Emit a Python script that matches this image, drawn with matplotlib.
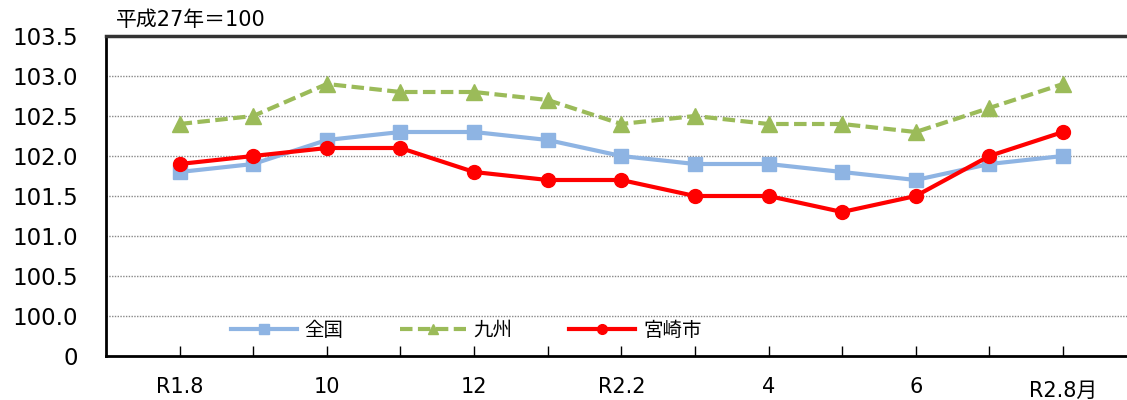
import matplotlib
matplotlib.use('Agg')
import matplotlib.pyplot as plt
from matplotlib.transforms import ScaledTranslation

plt.rcParams['font.family'] = ['DejaVu Sans', 'Noto Sans CJK JP']

# data
months = ['R1.8', '9', '10', '11', '12', 'R2.1', 'R2.2', '3', '4', '5', '6', '7', 'R2.8']
tick_labels = ['R1.8', '', '10', '', '12', '', 'R2.2', '', '4', '', '6', '', 'R2.8月']
zenkoku = [101.8, 101.9, 102.2, 102.3, 102.3, 102.2, 102.0, 101.9, 101.9, 101.8, 101.7, 101.9, 102.0]
kyushu = [102.4, 102.5, 102.9, 102.8, 102.8, 102.7, 102.4, 102.5, 102.4, 102.4, 102.3, 102.6, 102.9]
miyazaki = [101.9, 102.0, 102.1, 102.1, 101.8, 101.7, 101.7, 101.5, 101.5, 101.3, 101.5, 102.0, 102.3]
y_ticks = [99.5, 100.0, 100.5, 101.0, 101.5, 102.0, 102.5, 103.0, 103.5]
y_labels = ['0', '100.0', '100.5', '101.0', '101.5', '102.0', '102.5', '103.0', '103.5']

fig = plt.figure(figsize=(11.27, 4), dpi=100)
ax = fig.add_axes([106 / 1127, 44 / 400, (1127 - 106) / 1127, 320 / 400])

x = list(range(len(months)))
ax.plot(x, zenkoku, color='#8EB4E3', lw=3, marker='s', ms=10, label='全国', zorder=3)
ax.plot(x, kyushu, color='#9BBB59', lw=3, ls=(0, (3, 1.3)), marker='^', ms=11, label='九州', zorder=3)
ax.plot(x, miyazaki, color='#FF0000', lw=3, marker='o', ms=10, label='宮崎市', zorder=4)

ax.set_xlim(-1.0, 12.87)
ax.set_ylim(99.5, 103.5)
ax.set_yticks(y_ticks)
ax.set_yticklabels(y_labels, fontsize=16.5)
ax.tick_params(axis='y', length=0, pad=20)
ax.set_xticks(x)
ax.set_xticklabels(tick_labels, fontsize=15)
ax.tick_params(axis='x', direction='in', length=7, width=1, pad=15)
last = ax.get_xticklabels()[-1]
last.set_transform(last.get_transform() + ScaledTranslation(0, -3 / 72, fig.dpi_scale_trans))

for v in y_ticks[1:-1]:
    ax.axhline(v, color='#888888', lw=1, ls=(0, (1, 1)), zorder=1)

ax.spines['right'].set_visible(False)
ax.spines['top'].set_linewidth(2.5)
ax.spines['top'].set_color('#333333')
ax.spines['left'].set_linewidth(2)
ax.spines['bottom'].set_linewidth(2)

ax.text(10 / 1021, 1.018, '平成27年＝100', transform=ax.transAxes, fontsize=15,
        va='bottom', ha='left')

leg = ax.legend(loc='center', bbox_to_anchor=(466 / 1127, 1 - 330 / 400), bbox_transform=fig.transFigure,
                ncol=3, frameon=False, handlelength=3.4, handletextpad=0.4, columnspacing=2.9,
                prop={'family': ['Noto Sans CJK JP', 'DejaVu Sans'], 'size': 14})
for h in leg.legend_handles:
    h.set_markersize(7)

fig.savefig('out.png', dpi=100)
